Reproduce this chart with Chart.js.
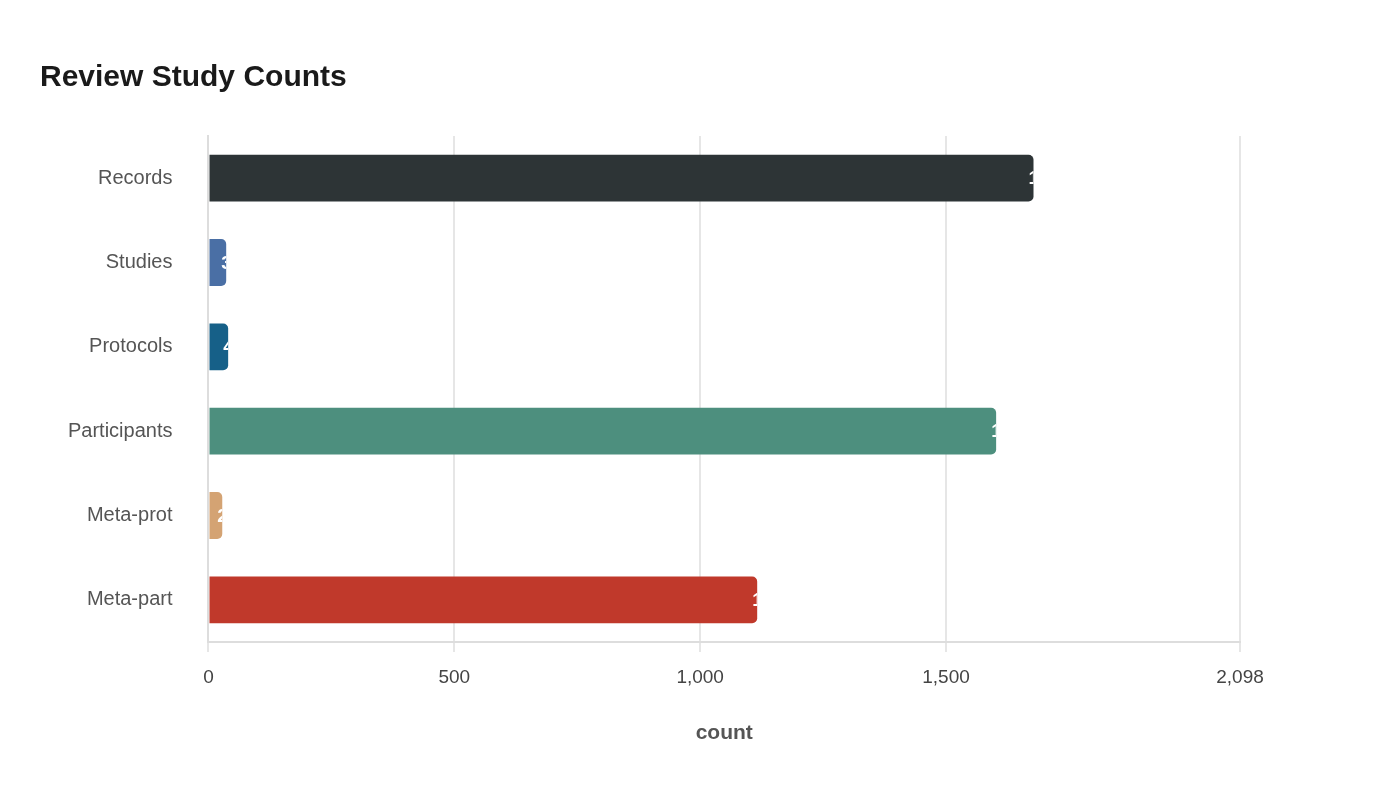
<!DOCTYPE html>
<html><head><meta charset="utf-8">
<script src="https://cdn.jsdelivr.net/npm/chart.js@4"></script>
<style>html,body{margin:0;background:#fff}#w{width:1400px;height:800px;position:relative}</style>
</head><body><div id="w"><canvas id="c"></canvas></div>
<script>
const categories = ["Records","Studies","Protocols","Participants","Meta-prot","Meta-part"];
const values = [1678,36,40,1602,28,1116];
const colors = ["#2d3436","#4a6fa5","#166088","#4d8f7e","#d4a373","#c0392b"];
const xTicks = [0,500,1000,1500,2098];
const xMax = 2098;

const labelPlugin = {
  id:'lbl',
  afterDatasetsDraw(chart){
    const ctx=chart.ctx;
    chart.getDatasetMeta(0).data.forEach((b,i)=>{
      const left=Math.min(b.base,b.x), right=Math.max(b.base,b.x);
      ctx.save();
      ctx.beginPath();
      ctx.rect(left,b.y-b.height/2,right-left,b.height);
      ctx.clip();
      ctx.fillStyle='#fff';
      ctx.font='bold 19px "Liberation Sans", Arial, sans-serif';
      ctx.textAlign='left';ctx.textBaseline='middle';
      ctx.fillText(String(values[i]),right-5,b.y+1);
      ctx.restore();
    });
  }
};

new Chart(document.getElementById('c'),{
  type:'bar',
  data:{labels:categories,datasets:[{data:values,backgroundColor:colors,borderRadius:{topRight:5,bottomRight:5,topLeft:0,bottomLeft:0},borderSkipped:false,categoryPercentage:1,barPercentage:0.555}]},
  options:{
    indexAxis:'y',responsive:true,maintainAspectRatio:false,animation:false,
    layout:{padding:{left:40,right:160,top:20,bottom:50}},
    plugins:{legend:{display:false},tooltip:{enabled:false},
      title:{display:true,text:'Review Study Counts',align:'start',color:'#1a1a1a',
        font:{family:'"Liberation Sans", Arial, sans-serif',size:30,weight:'bold'},padding:{top:40,bottom:40}}},
    scales:{
      x:{min:0,max:xMax,
        afterBuildTicks(s){s.ticks=xTicks.map(v=>({value:v}));},
        ticks:{color:'#444',font:{family:'"Liberation Sans", Arial, sans-serif',size:19},padding:14,
          callback:v=>v.toLocaleString('en-US')},
        grid:{color:'#e6e6e6',lineWidth:2,drawTicks:true,tickLength:10,tickColor:'#e6e6e6'},
        border:{color:'#dddddd',width:2},
        title:{display:true,text:'count',color:'#555',font:{family:'"Liberation Sans", Arial, sans-serif',size:21,weight:'bold'},padding:{top:18}}},
      y:{ticks:{color:'#555',font:{family:'"Liberation Sans", Arial, sans-serif',size:20},padding:28},
        grid:{display:false},border:{color:'#dddddd',width:2}}
    }
  },
  plugins:[labelPlugin]
});
</script></body></html>
